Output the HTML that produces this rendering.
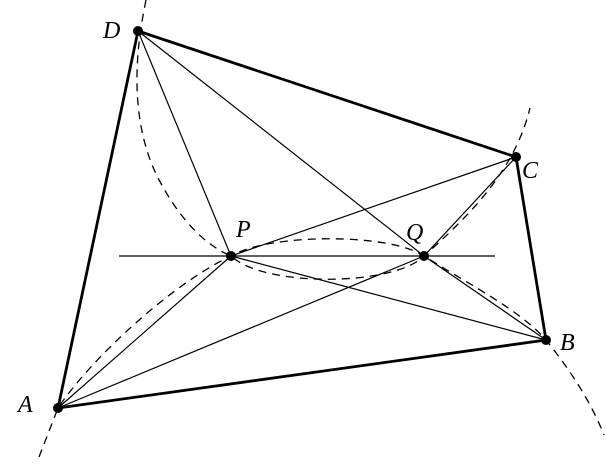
<!DOCTYPE html>
<html><head><style>html,body{margin:0;padding:0;background:#fff}svg{display:block}</style></head>
<body>
<svg width="606" height="466" viewBox="0 0 606 466" xmlns="http://www.w3.org/2000/svg">
<g fill="none" stroke="#000">
<path d="M146,0 C140,30 124,110 158,178 C180,220 205,245 231,256 C265,288 395,286 424,256 C470,215 515,170 530,108" stroke-width="1.3" stroke-dasharray="8,6"/>
<path d="M39,457 L58,408 C90,360 170,285 231,256 C270,233 390,233 424,256 C470,285 520,310 546,340 C570,370 590,400 604,435" stroke-width="1.3" stroke-dasharray="8,6"/>
<g stroke-width="1.2">
<line x1="119" y1="256" x2="495" y2="256"/>
<line x1="138" y1="31" x2="231" y2="256"/>
<line x1="138" y1="31" x2="424" y2="256"/>
<line x1="516" y1="157" x2="231" y2="256"/>
<line x1="231" y1="256" x2="546" y2="340"/>
<line x1="231" y1="256" x2="58" y2="408"/>
<line x1="424" y1="256" x2="58" y2="408"/>
<line x1="424" y1="256" x2="516" y2="157"/>
<line x1="424" y1="256" x2="546" y2="340"/>
</g>
<polygon points="58,408 546,340 516,157 138,31" stroke-width="2.8" stroke-linejoin="round"/>
</g>
<g fill="#000">
<circle cx="138" cy="31" r="5"/><circle cx="516" cy="157" r="5"/>
<circle cx="546" cy="340" r="5"/><circle cx="58" cy="408" r="5"/>
<circle cx="231" cy="256" r="5"/><circle cx="424" cy="256" r="5"/>
</g>
<g font-family="Liberation Serif, serif" font-style="italic" font-size="24" fill="#000">
<text x="103" y="38">D</text>
<text x="522" y="178">C</text>
<text x="560" y="350">B</text>
<text x="18" y="412">A</text>
<text x="236" y="237">P</text>
<text x="406" y="240">Q</text>
</g>
</svg>
</body></html>
